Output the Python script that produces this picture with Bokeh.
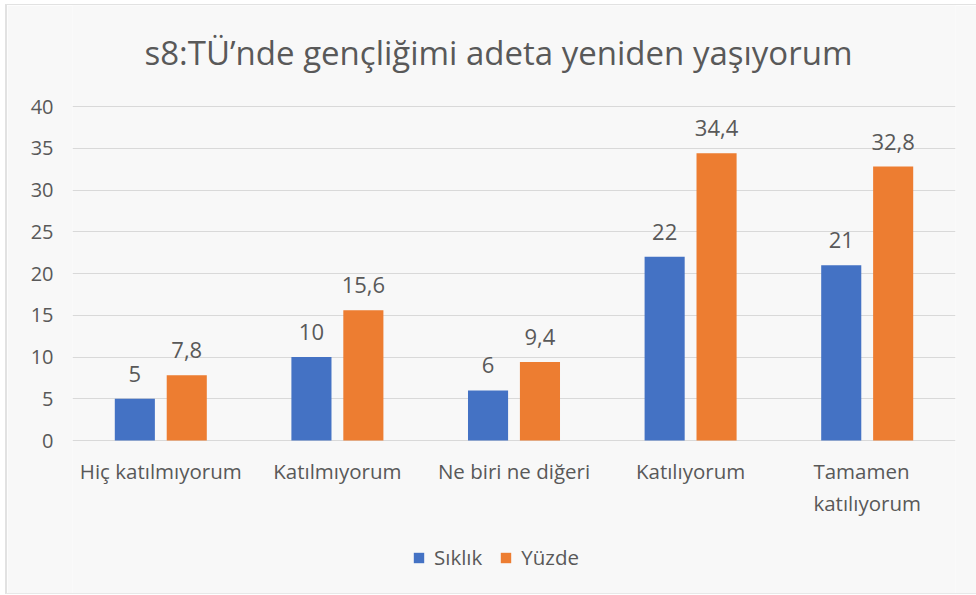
from bokeh.plotting import figure
from bokeh.models import (ColumnDataSource, Range1d, FactorRange, Legend, LegendItem,
                          LabelSet, Label, FixedTicker)
from bokeh.transform import dodge
from bokeh.core.properties import value
from bokeh.embed import file_html
from bokeh.resources import INLINE

categories = ["Hiç katılmıyorum", "Katılmıyorum", "Ne biri ne diğeri", "Katılıyorum", "Tamamen katılıyorum"]
category_labels = ["Hiç katılmıyorum", "Katılmıyorum", "Ne biri ne diğeri", "Katılıyorum", "Tamamen\nkatılıyorum"]
siklik = [5, 10, 6, 22, 21]
yuzde = [7.8, 15.6, 9.4, 34.4, 32.8]
series_names = ["Sıklık", "Yüzde"]
y_ticks = [0, 5, 10, 15, 20, 25, 30, 35, 40]
title_text = "s8:TÜ’nde gençliğimi adeta yeniden yaşıyorum"

BLUE = "#4472C4"
ORANGE = "#ED7D31"
TXT = "#595959"
FONT = "Open Sans"

# layout (page pixels)
BOX_L, BOX_T, BOX_B = 7, 5, 593     # chart box edges (inside the thin border)
AXIS_X = 72                         # left edge of plotting area
FRAME_W = 883
Y40_PX, Y0_PX = 106, 440            # page y of value 40 and of value 0
PX_PER_UNIT = (Y0_PX - Y40_PX) / 40
FRAME_H = BOX_B - BOX_T
Y_MAX = 40 + (Y40_PX - BOX_T) / PX_PER_UNIT
Y_MIN = 0 - (BOX_B - Y0_PX) / PX_PER_UNIT

def fmt(v):
    return f"{v:g}".replace(".", ",")

src = ColumnDataSource(dict(
    cat=categories,
    catlab=category_labels,
    zero=[0] * len(categories),
    s=siklik,
    y=yuzde,
    s_lab=[fmt(v) for v in siklik],
    y_lab=[fmt(v) for v in yuzde],
))

p = figure(
    frame_width=FRAME_W, frame_height=FRAME_H,
    x_range=FactorRange(*categories, range_padding=0),
    y_range=Range1d(Y_MIN, Y_MAX),
    output_backend="svg", toolbar_location=None,
    min_border_left=AXIS_X - BOX_L, min_border_right=21, min_border_top=0, min_border_bottom=0,
)
p.background_fill_color = "#f8f8f8"
p.border_fill_color = "#f8f8f8"
p.outline_line_color = None
p.styles = {"margin-left": "5px", "margin-top": "4px",
            "border-left": "2px solid #e2e2e2", "border-top": "1px solid #e2e2e2",
            "border-bottom": "1px solid #e8e8e8"}

title = Label(x=498 - AXIS_X, y=BOX_B - 52, x_units="screen", y_units="screen",
              text=title_text, text_align="center", text_baseline="middle",
              text_font=FONT, text_font_size="33px", text_color=TXT)
p.add_layout(title)

off = 0.147
w = 0.227
r1 = p.vbar(x=dodge("cat", -off, range=p.x_range), top="s", width=w, source=src,
            fill_color=BLUE, line_color=None)
r2 = p.vbar(x=dodge("cat", off, range=p.x_range), top="y", width=w, source=src,
            fill_color=ORANGE, line_color=None)

for xcol, ycol, lab in [(-off, "s", "s_lab"), (off, "y", "y_lab")]:
    ls = LabelSet(x=dodge("cat", xcol, range=p.x_range), y=ycol, text=lab, source=src,
                  text_align="center", text_baseline="bottom", y_offset=17,
                  text_font=value(FONT), text_font_size="22px", text_color=TXT)
    p.add_layout(ls)

xl = LabelSet(x="cat", y="zero", text="catlab", source=src,
              text_align="center", text_baseline="top", y_offset=-16,
              text_font=value(FONT), text_font_size="20.5px", text_color=TXT,
              text_line_height=1.15)
p.add_layout(xl)

p.xgrid.grid_line_color = None
p.ygrid.grid_line_color = "#d9d9d9"
p.ygrid.grid_line_width = 1
p.yaxis.ticker = FixedTicker(ticks=y_ticks)
p.yaxis.axis_line_color = None
p.yaxis.major_tick_line_color = None
p.yaxis.minor_tick_line_color = None
p.yaxis.major_label_text_font = FONT
p.yaxis.major_label_text_font_size = "20px"
p.yaxis.major_label_text_color = TXT
p.yaxis.major_label_standoff = 13
p.xaxis.visible = False

legend = Legend(items=[LegendItem(label=series_names[0], renderers=[r1]),
                       LegendItem(label=series_names[1], renderers=[r2])],
                orientation="horizontal", location=(340, 22),
                label_text_font=FONT, label_text_font_size="20.5px", label_text_color=TXT,
                glyph_width=13, glyph_height=13, spacing=17, label_standoff=9,
                background_fill_alpha=0, border_line_color=None, margin=0, padding=4)
p.add_layout(legend, "center")

open("out.html", "w").write(file_html(p, INLINE))
